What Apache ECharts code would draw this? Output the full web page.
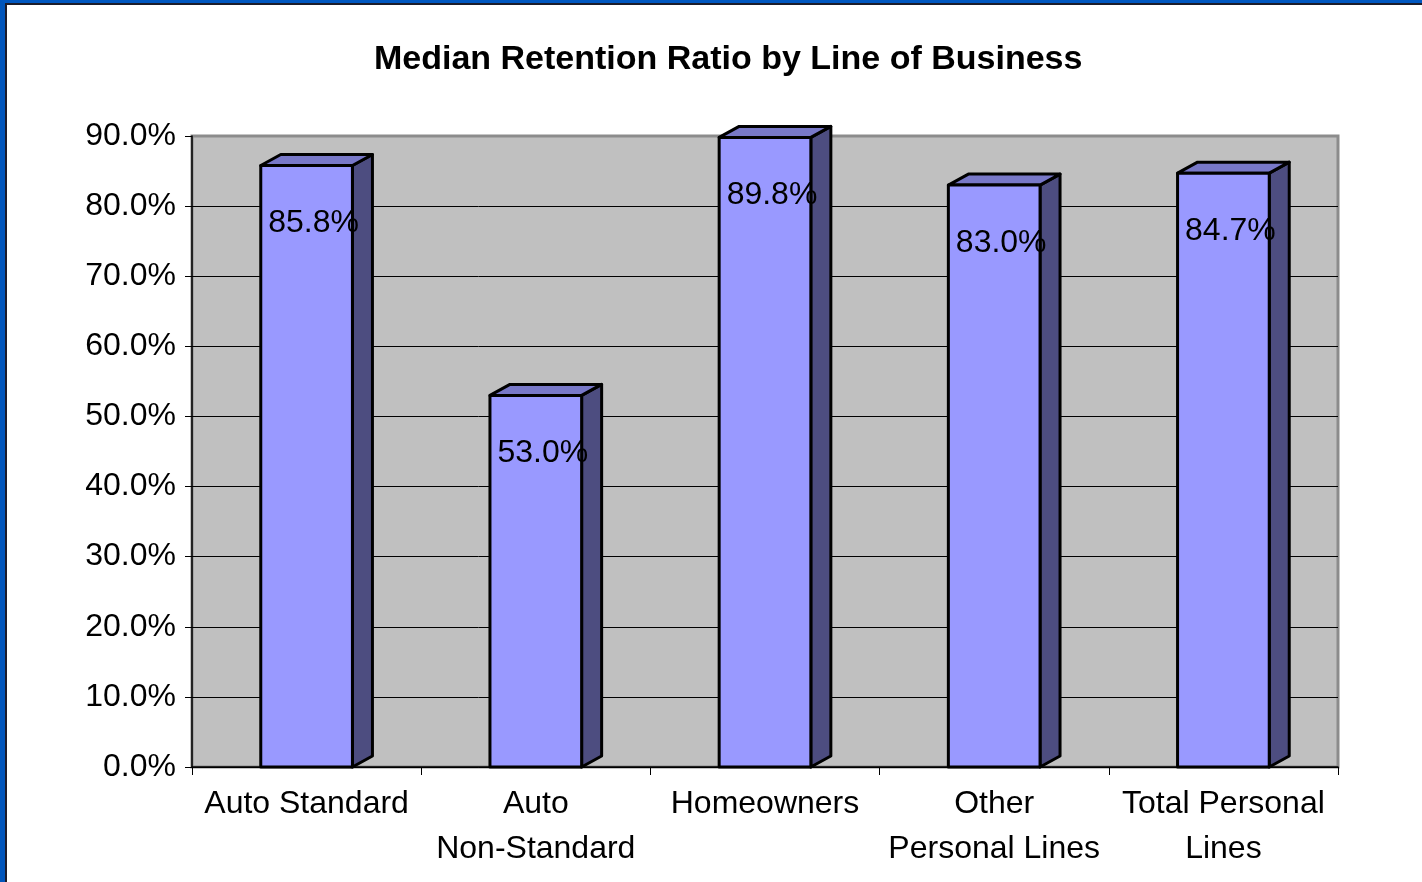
<!DOCTYPE html>
<html>
<head>
<meta charset="utf-8">
<script src="https://cdn.jsdelivr.net/npm/echarts@6/dist/echarts.min.js"></script>
<style>
  html, body { margin: 0; padding: 0; background: #fff; }
  #frame {
    position: absolute; left: 0; top: 0; width: 1422px; height: 882px;
    box-sizing: border-box;
    border-left: 5px solid #0055bb;
    border-top: 3px solid #0057c0;
  }
  #inner {
    width: 100%; height: 100%; box-sizing: border-box;
    border-left: 2px solid #1c1c2a;
    border-top: 2px solid #1c1c2a;
    background: #fff;
  }
  #main { position: absolute; left: 0; top: 0; width: 1422px; height: 882px; }
</style>
</head>
<body>
<div id="frame"><div id="inner"></div></div>
<div id="main"></div>
<script>
const categories = ['Auto Standard', 'Auto\nNon-Standard', 'Homeowners', 'Other\nPersonal Lines', 'Total Personal\nLines'];
const retention = [85.8, 53.0, 89.8, 83.0, 84.7];
const yTicks = [0, 10, 20, 30, 40, 50, 60, 70, 80, 90];

const chart = echarts.init(document.getElementById('main'));
const font = 'Liberation Sans, Arial, sans-serif';

// 3D-looking column: front face, top, right side
const renderBar = (params, api) => {
  const idx = api.value(0);
  const val = api.value(1);
  const base = api.coord([idx, 0]);
  const top = api.coord([idx, val]);
  const band = api.size([1, 0])[0];
  const w = band * 0.4;
  const dx = 20, dy = 11;
  const x0 = base[0] - w / 2, x1 = base[0] + w / 2;
  const y0 = base[1], y1 = top[1];
  const line = { stroke: '#000', lineWidth: 3, lineJoin: 'round' };
  return {
    type: 'group',
    children: [
      { type: 'polygon', shape: { points: [[x1, y1], [x1 + dx, y1 - dy], [x1 + dx, y0 - dy], [x1, y0]] },
        style: Object.assign({ fill: '#4d4d80' }, line) },
      { type: 'polygon', shape: { points: [[x0, y1], [x0 + dx, y1 - dy], [x1 + dx, y1 - dy], [x1, y1]] },
        style: Object.assign({ fill: '#7878c8' }, line) },
      { type: 'rect', shape: { x: x0, y: y1, width: w, height: y0 - y1 },
        style: Object.assign({ fill: '#9999ff' }, line) },
      { type: 'text', x: base[0] + 7, y: y1 + 58,
        style: { text: val.toFixed(1) + '%', font: '32px ' + font, fill: '#000', align: 'center', verticalAlign: 'middle' } }
    ]
  };
};

const option = {
  backgroundColor: 'transparent',
  animation: false,
  title: {
    text: 'Median Retention Ratio by Line of Business',
    left: 369, top: 38,
    textStyle: { fontFamily: font, fontSize: 34, fontWeight: 'bold', color: '#000' }
  },
  grid: {
    left: 192, right: 84, top: 136, bottom: 115,
    show: true, backgroundColor: '#c0c0c0', borderColor: '#8c8c8c', borderWidth: 3
  },
  xAxis: {
    type: 'category',
    data: categories,
    boundaryGap: true,
    axisLine: { lineStyle: { color: '#000', width: 1.5 } },
    axisTick: { show: true, length: 8, lineStyle: { color: '#000', width: 1 } },
    axisLabel: { color: '#000', fontFamily: font, fontSize: 32, lineHeight: 45, margin: 15, interval: 0 }
  },
  yAxis: {
    type: 'value',
    min: yTicks[0], max: yTicks[yTicks.length - 1], interval: 10,
    axisLine: { show: true, lineStyle: { color: '#000', width: 1.5 } },
    axisTick: { show: true, length: 7, lineStyle: { color: '#000' } },
    splitLine: { show: true, showMaxLine: false, lineStyle: { color: '#000', width: 1 } },
    axisLabel: { color: '#000', fontFamily: font, fontSize: 32, margin: 16,
      formatter: v => v.toFixed(1) + '%' }
  },
  series: [{
    type: 'custom',
    renderItem: renderBar,
    clip: false,
    data: retention.map((v, i) => [i, v])
  }]
};
chart.setOption(option);
</script>
</body>
</html>
